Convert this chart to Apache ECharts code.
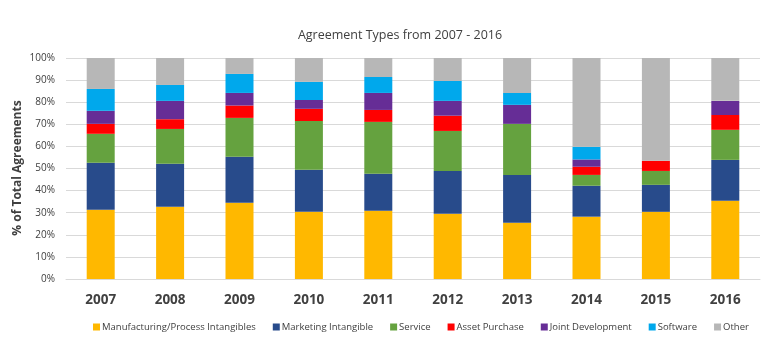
<!DOCTYPE html>
<html>
<head>
<meta charset="utf-8">
<script src="https://cdn.jsdelivr.net/npm/echarts@6/dist/echarts.min.js"></script>
<style>html,body{margin:0;padding:0;background:#fff;}#c{width:782px;height:355px;}</style>
</head>
<body>
<div id="c"></div>
<script>
const categories = ['2007','2008','2009','2010','2011','2012','2013','2014','2015','2016'];
const manufacturing = [31.3, 32.7, 34.5, 30.4, 30.9, 29.5, 25.5, 28.2, 30.4, 35.4];
const marketing     = [21.3, 19.4, 20.8, 19.0, 16.7, 19.4, 21.6, 14.0, 12.2, 18.5];
const service       = [13.1, 15.8, 17.6, 22.1, 23.5, 18.1, 23.1, 4.9, 6.3, 13.6];
const assetPurchase = [4.5, 4.4, 5.6, 5.5, 5.4, 6.9, 0, 3.7, 4.6, 6.7];
const jointDev      = [5.9, 8.3, 5.7, 4.0, 7.7, 6.7, 8.6, 3.3, 0, 6.4];
const software      = [9.9, 7.2, 8.6, 8.2, 7.2, 9.0, 5.4, 5.7, 0, 0];
const other         = [14.0, 12.2, 7.2, 10.8, 8.6, 10.4, 15.8, 40.2, 46.5, 19.4];
const yTicks = ['0%','10%','20%','30%','40%','50%','60%','70%','80%','90%','100%'];

const seriesDefs = [
  ['Manufacturing/Process Intangibles', manufacturing, '#FFB800'],
  ['Marketing Intangible', marketing, '#284B8B'],
  ['Service', service, '#65A23F'],
  ['Asset Purchase', assetPurchase, '#FF0000'],
  ['Joint Development', jointDev, '#662D96'],
  ['Software', software, '#00A8EC'],
  ['Other', other, '#B7B7B7']
];

const font = 'Open Sans, Noto Sans, sans-serif';
const chart = echarts.init(document.getElementById('c'));
chart.setOption({
  animation: false,
  textStyle: { fontFamily: font },
  title: {
    text: 'Agreement Types from 2007 - 2016',
    left: 395, top: 24, textAlign: 'center',
    textStyle: { fontSize: 12.5, fontWeight: 'normal', color: '#404040', fontFamily: font }
  },
  legend: {
    bottom: 18, left: 88,
    itemWidth: 7, itemHeight: 7, itemGap: 17,
    icon: 'rect',
    textStyle: { fontSize: 9.5, color: '#404040', padding: [0,0,0,-3], fontFamily: font }
  },
  graphic: [{
    type: 'text', x: 18, y: 168, rotation: Math.PI / 2,
    style: { text: '% of Total Agreements', fontSize: 12, fontWeight: 'bold', fill: '#404040',
      fontFamily: font, align: 'center', verticalAlign: 'middle' }
  }],
  grid: { left: 66, right: 22, top: 58, bottom: 76 },
  xAxis: {
    type: 'category', data: categories,
    axisLine: { lineStyle: { color: '#D9D9D9' } },
    axisTick: { show: false },
    axisLabel: { fontSize: 13.5, fontWeight: 'bold', color: '#404040', margin: 14, fontFamily: font }
  },
  yAxis: {
    type: 'value', min: 0, max: 100, interval: 10,
    axisLine: { show: false }, axisTick: { show: false },
    splitLine: { lineStyle: { color: '#D9D9D9', width: 1 } },
    axisLabel: { fontSize: 10, color: '#404040', margin: 11, fontFamily: font,
      formatter: v => yTicks[Math.round(v / 10)] }
  },
  series: seriesDefs.map(([name, data, color]) => ({
    name, type: 'bar', stack: 'total', data, barWidth: 28,
    itemStyle: { color }
  }))
});
</script>
</body>
</html>
